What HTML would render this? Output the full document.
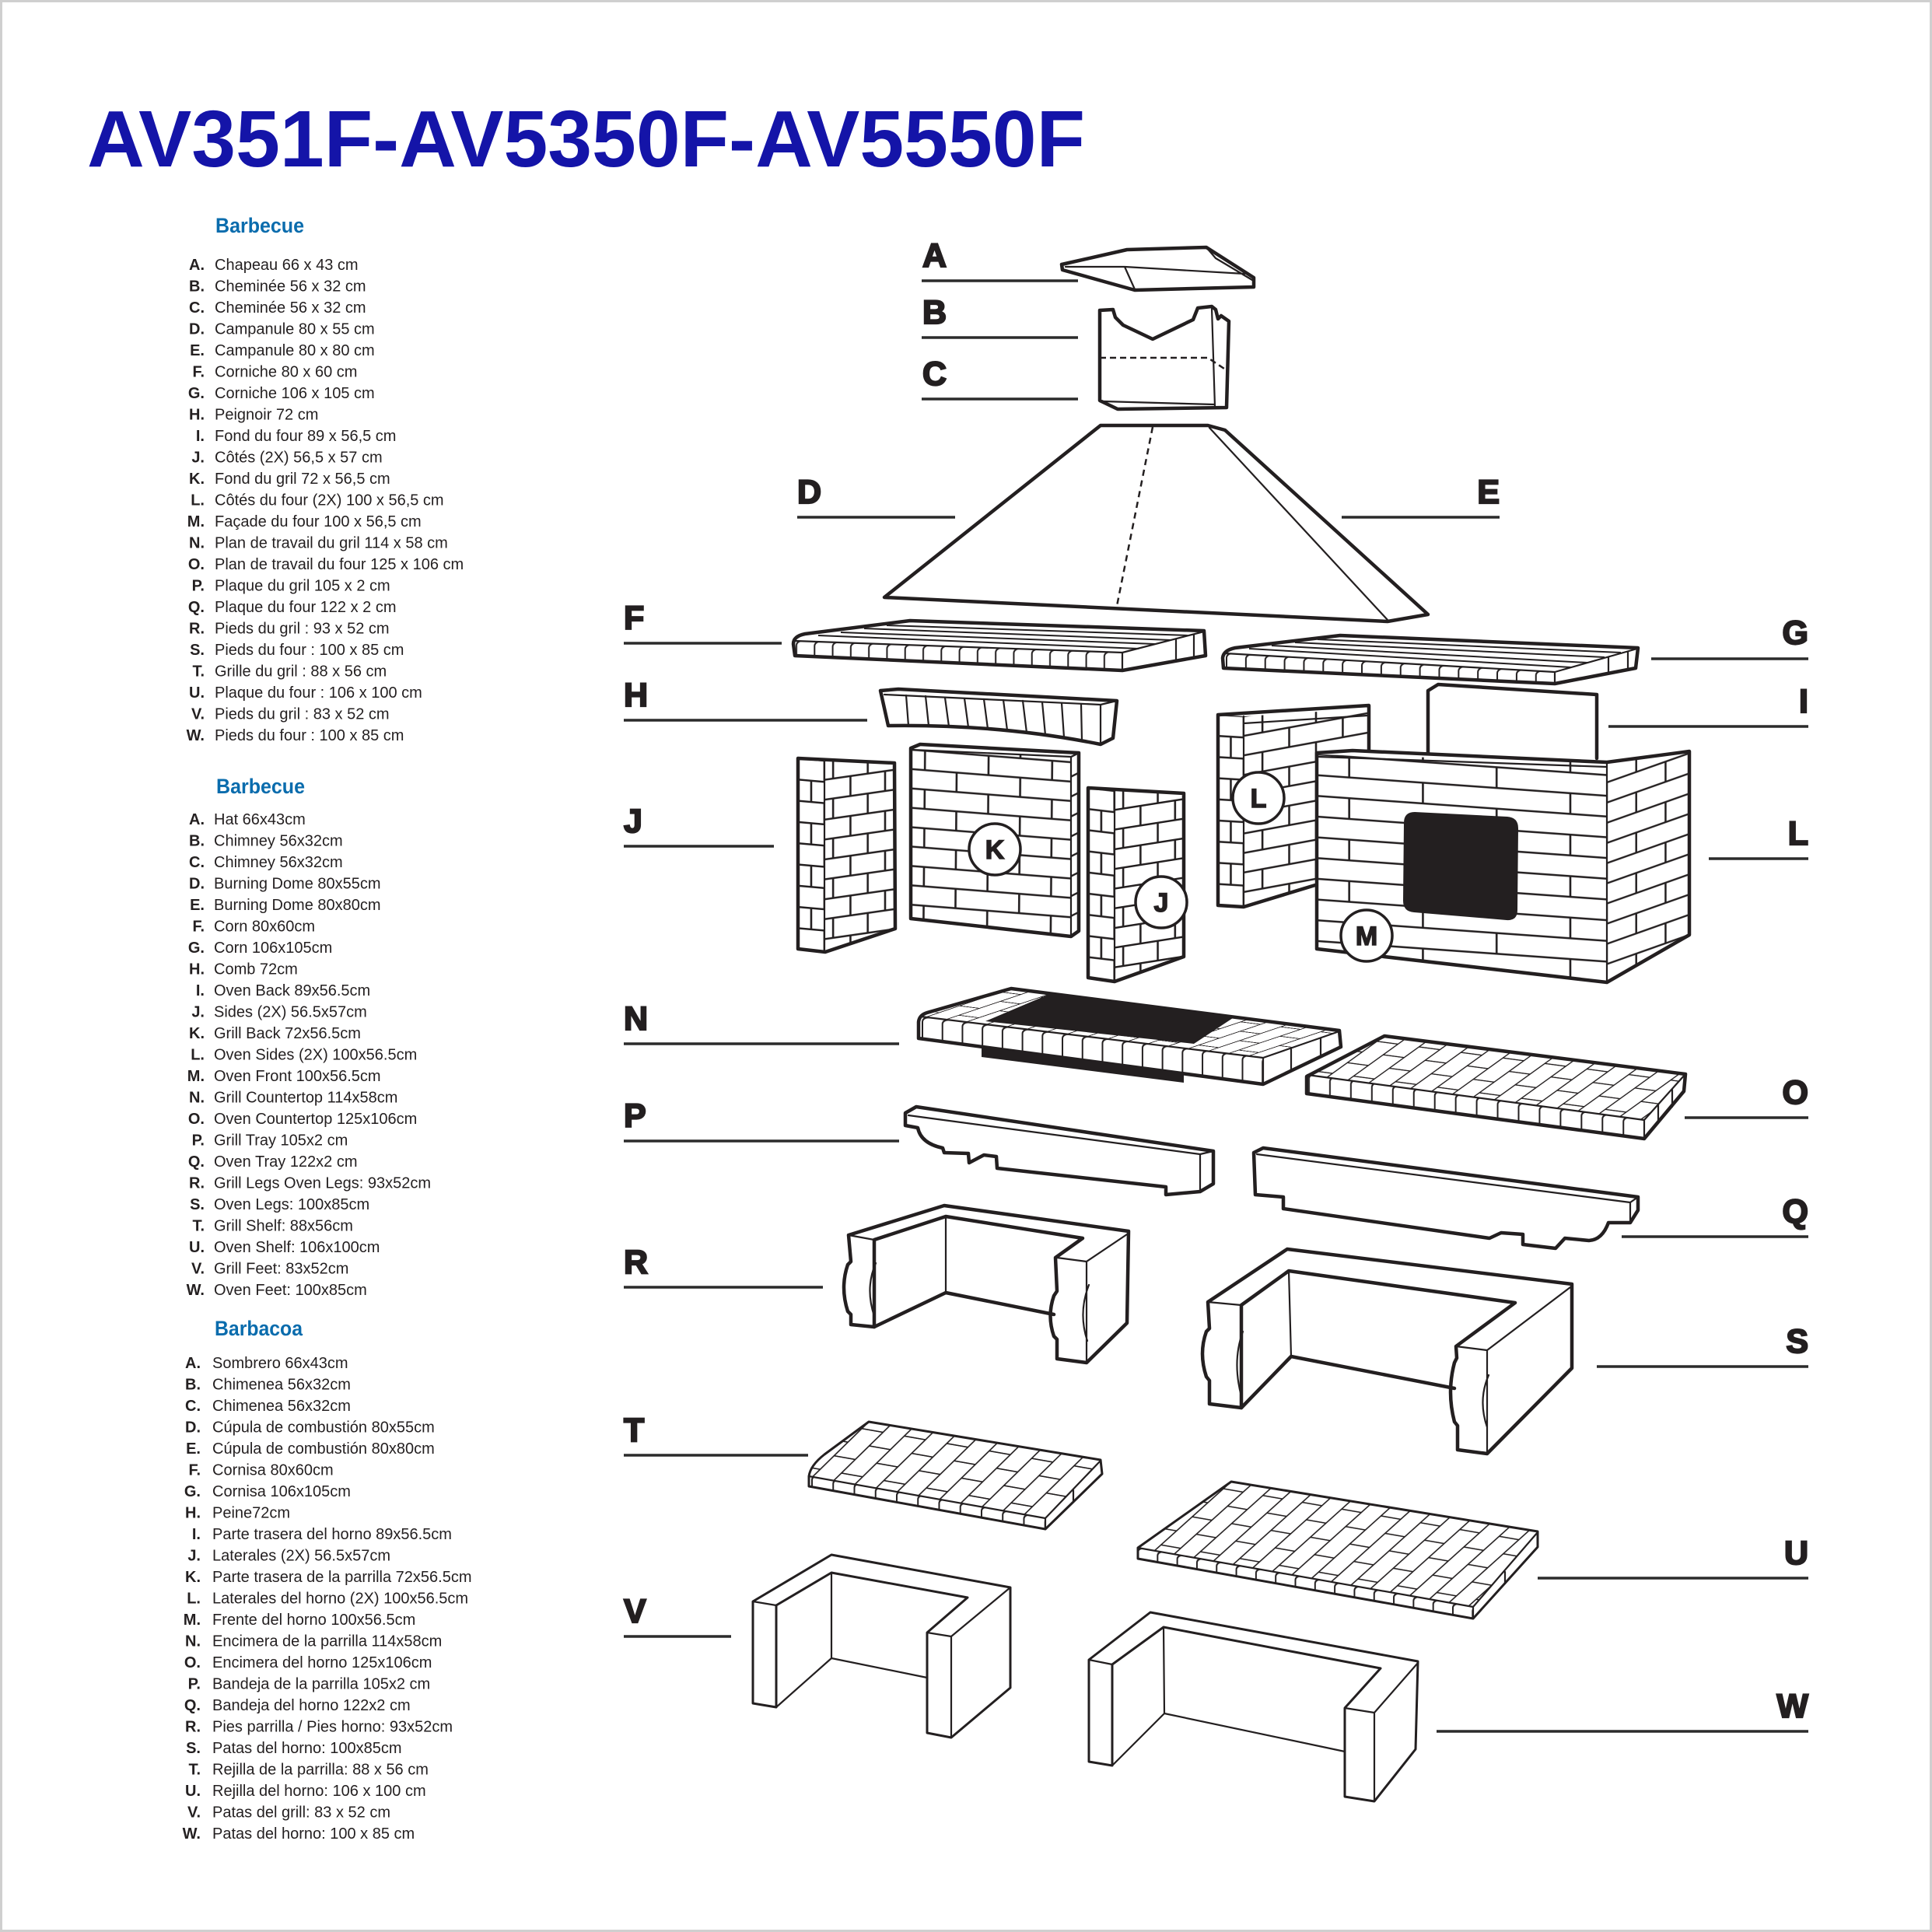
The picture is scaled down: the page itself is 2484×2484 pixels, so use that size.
<!DOCTYPE html>
<html><head><meta charset="utf-8"><title>AV351F-AV5350F-AV5550F</title>
<style>
html,body{margin:0;padding:0;background:#fff;}
svg{display:block;}
.o{fill:#fff;stroke:#231f20;stroke-width:4.5;stroke-linejoin:round;stroke-linecap:round;}
.t{fill:#fff;stroke:#231f20;stroke-width:3;stroke-linejoin:round;stroke-linecap:round;}
.i{fill:none;stroke:#231f20;stroke-width:2.2;stroke-linejoin:round;stroke-linecap:round;}
.k{fill:none;stroke:#231f20;stroke-width:4.5;stroke-linejoin:round;stroke-linecap:round;}
.pl{fill:none;stroke:#231f20;stroke-width:2.6;}
.ps{fill:none;stroke:#231f20;stroke-width:2;}
.ln{stroke:#2b2b2b;stroke-width:3.6;}
.lb{font-family:"Liberation Sans",sans-serif;font-weight:bold;font-size:43px;fill:#231f20;stroke:#231f20;stroke-width:2.2;}
.ci{fill:#fff;stroke:#231f20;stroke-width:3.5;}
.cl{font-family:"Liberation Sans",sans-serif;font-weight:bold;font-size:34px;fill:#231f20;stroke:#231f20;stroke-width:1.5;text-anchor:middle;}
.li{font-family:"Liberation Sans",sans-serif;font-size:20px;fill:#231f20;}
.lk{font-family:"Liberation Sans",sans-serif;font-size:20px;font-weight:bold;fill:#231f20;text-anchor:end;}
.hd{font-family:"Liberation Sans",sans-serif;font-size:27px;font-weight:bold;fill:#0a6cad;}
</style></head>
<body>
<svg xmlns="http://www.w3.org/2000/svg" width="2484" height="2484" viewBox="0 0 2484 2484">
<defs>
<!-- wall patterns -->
<pattern id="pJ1a" patternUnits="userSpaceOnUse" x="-8.5" y="-13.65" width="34" height="54.6" patternTransform="matrix(.998 .088 0 1 1026 975)"><path class="pl" d="M0,13.65H34M0,40.95H34M8.5,13.65V40.95M25.5,40.95V54.6M25.5,0V13.65"/></pattern>
<pattern id="pJ1b" patternUnits="userSpaceOnUse" x="0" y="-12.8" width="45" height="51.2" patternTransform="matrix(.990 -.142 0 1 1060 977)"><path class="pl" d="M0,12.8H45M0,38.4H45M11.25,12.8V38.4M33.75,38.4V51.2M33.75,0V12.8"/></pattern>
<pattern id="pK" patternUnits="userSpaceOnUse" x="-4.1" y="-12.45" width="82" height="49.8" patternTransform="matrix(.997 .078 -.009 1 1173 964)"><path class="pl" d="M0,12.45H82M0,37.35H82M20.5,12.45V37.35M61.5,37.35V49.8M61.5,0V12.45"/></pattern>
<pattern id="pKr" patternUnits="userSpaceOnUse" x="0" y="-12.8" width="20" height="25.6" patternTransform="matrix(.89 -.45 0 1 1377 973)"><path class="pl" d="M0,12.8H20"/></pattern>
<pattern id="pJ2a" patternUnits="userSpaceOnUse" x="-8.5" y="-13.6" width="34" height="54.4" patternTransform="matrix(.993 .117 0 1 1399 1013)"><path class="pl" d="M0,13.6H34M0,40.8H34M8.5,13.6V40.8M25.5,40.8V54.4M25.5,0V13.6"/></pattern>
<pattern id="pJ2b" patternUnits="userSpaceOnUse" x="0" y="-12.65" width="45" height="50.6" patternTransform="matrix(.988 -.155 0 1 1433 1016)"><path class="pl" d="M0,12.65H45M0,37.95H45M11.25,12.65V37.95M33.75,37.95V50.6M33.75,0V12.65"/></pattern>
<pattern id="pLa" patternUnits="userSpaceOnUse" x="-8.25" y="-13.6" width="33" height="54.4" patternTransform="matrix(.998 .06 0 1 1566 919)"><path class="pl" d="M0,13.6H33M0,40.8H33M8.25,13.6V40.8M24.75,40.8V54.4M24.75,0V13.6"/></pattern>
<pattern id="pLb" patternUnits="userSpaceOnUse" x="7" y="-12.55" width="70" height="50.2" patternTransform="matrix(.984 -.180 0 1 1599 921)"><path class="pl" d="M0,12.55H70M0,37.65H70M17.5,12.55V37.65M52.5,37.65V50.2M52.5,0V12.55"/></pattern>
<pattern id="pMf" patternUnits="userSpaceOnUse" x="-5.7" y="-13.325" width="190" height="53.3" patternTransform="matrix(.9975 .0709 0 1 1693 970)"><path class="pl" d="M0,13.325H190M0,39.975H190M47.5,13.325V39.975M142.5,39.975V53.3M142.5,0V13.325"/></pattern>
<pattern id="pMr" patternUnits="userSpaceOnUse" x="20" y="-12.975" width="80" height="51.9" patternTransform="matrix(.943 -.334 0 1 2066 980)"><path class="pl" d="M0,12.975H80M0,38.925H80M20,12.975V38.925M60,38.925V51.9M60,0V12.975"/></pattern>
<!-- slat patterns (top surfaces) -->
<pattern id="pN" patternUnits="userSpaceOnUse" x="-12.95" y="0" width="51.8" height="56" patternTransform="matrix(.9924 .1235 -.948 .3175 1300 1271)"><path class="ps" d="M12.95,0V56M38.85,0V56M12.95,14H38.85M38.85,42H51.8M0,42H12.95"/></pattern>
<pattern id="pO" patternUnits="userSpaceOnUse" x="-13.6" y="0" width="54.4" height="47" patternTransform="matrix(.9915 .1309 -.8117 .5844 1780 1332)"><path class="ps" d="M13.6,0V47M40.8,0V47M13.6,11.75H40.8M40.8,35.25H54.4M0,35.25H13.6"/></pattern>
<pattern id="pT" patternUnits="userSpaceOnUse" x="-13.85" y="0" width="55.4" height="50" patternTransform="matrix(.985 .173 -.714 .699 1117 1828)"><path class="ps" d="M13.85,0V50M41.55,0V50M13.85,12.5H41.55M41.55,37.5H55.4M0,37.5H13.85"/></pattern>
<pattern id="pU" patternUnits="userSpaceOnUse" x="-12.85" y="0" width="51.4" height="54" patternTransform="matrix(.9854 .1702 -.7434 .6691 1583 1905)"><path class="ps" d="M12.85,0V54M38.55,0V54M12.85,13.5H38.55M38.55,40.5H51.4M0,40.5H12.85"/></pattern>
<!-- rib patterns (front faces) -->
<pattern id="pFr" patternUnits="userSpaceOnUse" x="-11.65" y="-4" width="23.3" height="60" patternTransform="matrix(.9994 .0358 0 1 1024 824)"><path class="ps" d="M11.65,60L11.65,10Q11.65,4 21.65,3"/></pattern>
<pattern id="pGr" patternUnits="userSpaceOnUse" x="-12.45" y="-4" width="24.9" height="60" patternTransform="matrix(.9984 .0568 0 1 1577 840)"><path class="ps" d="M12.45,60L12.45,10Q12.45,4 22.45,3"/></pattern>
<pattern id="pNr" patternUnits="userSpaceOnUse" x="-12.95" y="-4" width="25.9" height="60" patternTransform="matrix(.993 .1179 0 1 1186 1308)"><path class="ps" d="M12.95,60L12.95,10Q12.95,4 22.95,3"/></pattern>
<pattern id="pOr" patternUnits="userSpaceOnUse" x="-13.6" y="-4" width="27.2" height="60" patternTransform="matrix(.9908 .1356 0 1 1683 1381)"><path class="ps" d="M13.6,60L13.6,10Q13.6,4 23.6,3"/></pattern>
<pattern id="pTr" patternUnits="userSpaceOnUse" x="-13.85" y="-4" width="27.7" height="60" patternTransform="matrix(.9836 .1803 0 1 1044 1897)"><path class="ps" d="M13.85,60L13.85,10Q13.85,4 23.85,3"/></pattern>
<pattern id="pUr" patternUnits="userSpaceOnUse" x="-12.85" y="-4" width="25.7" height="60" patternTransform="matrix(.9849 .1737 0 1 1463 1990)"><path class="ps" d="M12.85,60L12.85,10Q12.85,4 22.85,3"/></pattern>
</defs>

<rect x="0" y="0" width="2484" height="2484" fill="#fff"/>
<rect x="1.5" y="1.5" width="2481" height="2481" fill="none" stroke="#cfcfcf" stroke-width="3"/>

<text x="112" y="214" font-family="Liberation Sans, sans-serif" font-weight="bold" font-size="103" fill="#1414a8" textLength="1283" lengthAdjust="spacingAndGlyphs">AV351F-AV5350F-AV5550F</text>

<!-- Section 1 -->
<text class="hd" x="277" y="299" textLength="114" lengthAdjust="spacingAndGlyphs">Barbecue</text>
<g>
<text class="lk" x="263" y="347">A.</text><text class="li" x="276" y="347">Chapeau 66 x 43 cm</text>
<text class="lk" x="263" y="374.5">B.</text><text class="li" x="276" y="374.5">Cheminée 56 x 32 cm</text>
<text class="lk" x="263" y="402">C.</text><text class="li" x="276" y="402">Cheminée 56 x 32 cm</text>
<text class="lk" x="263" y="429.5">D.</text><text class="li" x="276" y="429.5">Campanule 80 x 55 cm</text>
<text class="lk" x="263" y="457">E.</text><text class="li" x="276" y="457">Campanule 80 x 80 cm</text>
<text class="lk" x="263" y="484.5">F.</text><text class="li" x="276" y="484.5">Corniche 80 x 60 cm</text>
<text class="lk" x="263" y="512">G.</text><text class="li" x="276" y="512">Corniche 106 x 105 cm</text>
<text class="lk" x="263" y="539.5">H.</text><text class="li" x="276" y="539.5">Peignoir 72 cm</text>
<text class="lk" x="263" y="567">I.</text><text class="li" x="276" y="567">Fond du four 89 x 56,5 cm</text>
<text class="lk" x="263" y="594.5">J.</text><text class="li" x="276" y="594.5">Côtés (2X) 56,5 x 57 cm</text>
<text class="lk" x="263" y="622">K.</text><text class="li" x="276" y="622">Fond du gril 72 x 56,5 cm</text>
<text class="lk" x="263" y="649.5">L.</text><text class="li" x="276" y="649.5">Côtés du four (2X) 100 x 56,5 cm</text>
<text class="lk" x="263" y="677">M.</text><text class="li" x="276" y="677">Façade du four 100 x 56,5 cm</text>
<text class="lk" x="263" y="704.5">N.</text><text class="li" x="276" y="704.5">Plan de travail du gril 114 x 58 cm</text>
<text class="lk" x="263" y="732">O.</text><text class="li" x="276" y="732">Plan de travail du four 125 x 106 cm</text>
<text class="lk" x="263" y="759.5">P.</text><text class="li" x="276" y="759.5">Plaque du gril 105 x 2 cm</text>
<text class="lk" x="263" y="787">Q.</text><text class="li" x="276" y="787">Plaque du four 122 x 2 cm</text>
<text class="lk" x="263" y="814.5">R.</text><text class="li" x="276" y="814.5">Pieds du gril : 93 x 52 cm</text>
<text class="lk" x="263" y="842">S.</text><text class="li" x="276" y="842">Pieds du four : 100 x 85 cm</text>
<text class="lk" x="263" y="869.5">T.</text><text class="li" x="276" y="869.5">Grille du gril : 88 x 56 cm</text>
<text class="lk" x="263" y="897">U.</text><text class="li" x="276" y="897">Plaque du four : 106 x 100 cm</text>
<text class="lk" x="263" y="924.5">V.</text><text class="li" x="276" y="924.5">Pieds du gril : 83 x 52 cm</text>
<text class="lk" x="263" y="952">W.</text><text class="li" x="276" y="952">Pieds du four : 100 x 85 cm</text>
</g>

<!-- Section 2 -->
<text class="hd" x="278" y="1020" textLength="114" lengthAdjust="spacingAndGlyphs">Barbecue</text>
<g>
<text class="lk" x="263" y="1060">A.</text><text class="li" x="275" y="1060">Hat 66x43cm</text>
<text class="lk" x="263" y="1087.5">B.</text><text class="li" x="275" y="1087.5">Chimney 56x32cm</text>
<text class="lk" x="263" y="1115">C.</text><text class="li" x="275" y="1115">Chimney 56x32cm</text>
<text class="lk" x="263" y="1142.5">D.</text><text class="li" x="275" y="1142.5">Burning Dome 80x55cm</text>
<text class="lk" x="263" y="1170">E.</text><text class="li" x="275" y="1170">Burning Dome 80x80cm</text>
<text class="lk" x="263" y="1197.5">F.</text><text class="li" x="275" y="1197.5">Corn 80x60cm</text>
<text class="lk" x="263" y="1225">G.</text><text class="li" x="275" y="1225">Corn 106x105cm</text>
<text class="lk" x="263" y="1252.5">H.</text><text class="li" x="275" y="1252.5">Comb 72cm</text>
<text class="lk" x="263" y="1280">I.</text><text class="li" x="275" y="1280">Oven Back 89x56.5cm</text>
<text class="lk" x="263" y="1307.5">J.</text><text class="li" x="275" y="1307.5">Sides (2X) 56.5x57cm</text>
<text class="lk" x="263" y="1335">K.</text><text class="li" x="275" y="1335">Grill Back 72x56.5cm</text>
<text class="lk" x="263" y="1362.5">L.</text><text class="li" x="275" y="1362.5">Oven Sides (2X) 100x56.5cm</text>
<text class="lk" x="263" y="1390">M.</text><text class="li" x="275" y="1390">Oven Front 100x56.5cm</text>
<text class="lk" x="263" y="1417.5">N.</text><text class="li" x="275" y="1417.5">Grill Countertop 114x58cm</text>
<text class="lk" x="263" y="1445">O.</text><text class="li" x="275" y="1445">Oven Countertop 125x106cm</text>
<text class="lk" x="263" y="1472.5">P.</text><text class="li" x="275" y="1472.5">Grill Tray 105x2 cm</text>
<text class="lk" x="263" y="1500">Q.</text><text class="li" x="275" y="1500">Oven Tray 122x2 cm</text>
<text class="lk" x="263" y="1527.5">R.</text><text class="li" x="275" y="1527.5">Grill Legs Oven Legs: 93x52cm</text>
<text class="lk" x="263" y="1555">S.</text><text class="li" x="275" y="1555">Oven Legs: 100x85cm</text>
<text class="lk" x="263" y="1582.5">T.</text><text class="li" x="275" y="1582.5">Grill Shelf: 88x56cm</text>
<text class="lk" x="263" y="1610">U.</text><text class="li" x="275" y="1610">Oven Shelf: 106x100cm</text>
<text class="lk" x="263" y="1637.5">V.</text><text class="li" x="275" y="1637.5">Grill Feet: 83x52cm</text>
<text class="lk" x="263" y="1665">W.</text><text class="li" x="275" y="1665">Oven Feet: 100x85cm</text>
</g>

<!-- Section 3 -->
<text class="hd" x="276" y="1717" textLength="113" lengthAdjust="spacingAndGlyphs">Barbacoa</text>
<g>
<text class="lk" x="258" y="1759">A.</text><text class="li" x="273" y="1759">Sombrero 66x43cm</text>
<text class="lk" x="258" y="1786.5">B.</text><text class="li" x="273" y="1786.5">Chimenea 56x32cm</text>
<text class="lk" x="258" y="1814">C.</text><text class="li" x="273" y="1814">Chimenea 56x32cm</text>
<text class="lk" x="258" y="1841.5">D.</text><text class="li" x="273" y="1841.5">Cúpula de combustión 80x55cm</text>
<text class="lk" x="258" y="1869">E.</text><text class="li" x="273" y="1869">Cúpula de combustión 80x80cm</text>
<text class="lk" x="258" y="1896.5">F.</text><text class="li" x="273" y="1896.5">Cornisa 80x60cm</text>
<text class="lk" x="258" y="1924">G.</text><text class="li" x="273" y="1924">Cornisa 106x105cm</text>
<text class="lk" x="258" y="1951.5">H.</text><text class="li" x="273" y="1951.5">Peine72cm</text>
<text class="lk" x="258" y="1979">I.</text><text class="li" x="273" y="1979">Parte trasera del horno 89x56.5cm</text>
<text class="lk" x="258" y="2006.5">J.</text><text class="li" x="273" y="2006.5">Laterales (2X) 56.5x57cm</text>
<text class="lk" x="258" y="2034">K.</text><text class="li" x="273" y="2034">Parte trasera de la parrilla 72x56.5cm</text>
<text class="lk" x="258" y="2061.5">L.</text><text class="li" x="273" y="2061.5">Laterales del horno (2X) 100x56.5cm</text>
<text class="lk" x="258" y="2089">M.</text><text class="li" x="273" y="2089">Frente del horno 100x56.5cm</text>
<text class="lk" x="258" y="2116.5">N.</text><text class="li" x="273" y="2116.5">Encimera de la parrilla 114x58cm</text>
<text class="lk" x="258" y="2144">O.</text><text class="li" x="273" y="2144">Encimera del horno 125x106cm</text>
<text class="lk" x="258" y="2171.5">P.</text><text class="li" x="273" y="2171.5">Bandeja de la parrilla 105x2 cm</text>
<text class="lk" x="258" y="2199">Q.</text><text class="li" x="273" y="2199">Bandeja del horno 122x2 cm</text>
<text class="lk" x="258" y="2226.5">R.</text><text class="li" x="273" y="2226.5">Pies parrilla / Pies horno: 93x52cm</text>
<text class="lk" x="258" y="2254">S.</text><text class="li" x="273" y="2254">Patas del horno: 100x85cm</text>
<text class="lk" x="258" y="2281.5">T.</text><text class="li" x="273" y="2281.5">Rejilla de la parrilla: 88 x 56 cm</text>
<text class="lk" x="258" y="2309">U.</text><text class="li" x="273" y="2309">Rejilla del horno: 106 x 100 cm</text>
<text class="lk" x="258" y="2336.5">V.</text><text class="li" x="273" y="2336.5">Patas del grill: 83 x 52 cm</text>
<text class="lk" x="258" y="2364">W.</text><text class="li" x="273" y="2364">Patas del horno: 100 x 85 cm</text>
</g>

<!-- Leader lines -->
<g class="ln">
<line x1="1185" y1="361" x2="1386" y2="361"/>
<line x1="1185" y1="434" x2="1386" y2="434"/>
<line x1="1185" y1="513" x2="1386" y2="513"/>
<line x1="1025" y1="665" x2="1228" y2="665"/>
<line x1="1725" y1="665" x2="1928" y2="665"/>
<line x1="802" y1="827" x2="1005" y2="827"/>
<line x1="2123" y1="847" x2="2325" y2="847"/>
<line x1="802" y1="926" x2="1115" y2="926"/>
<line x1="2068" y1="934" x2="2325" y2="934"/>
<line x1="802" y1="1088" x2="995" y2="1088"/>
<line x1="2197" y1="1104" x2="2325" y2="1104"/>
<line x1="802" y1="1342" x2="1156" y2="1342"/>
<line x1="2166" y1="1437" x2="2325" y2="1437"/>
<line x1="802" y1="1467" x2="1156" y2="1467"/>
<line x1="2085" y1="1590" x2="2325" y2="1590"/>
<line x1="802" y1="1655" x2="1058" y2="1655"/>
<line x1="2053" y1="1757" x2="2325" y2="1757"/>
<line x1="802" y1="1871" x2="1039" y2="1871"/>
<line x1="1977" y1="2029" x2="2325" y2="2029"/>
<line x1="802" y1="2104" x2="940" y2="2104"/>
<line x1="1847" y1="2226" x2="2325" y2="2226"/>
</g>

<!-- Leader letters -->
<g class="lb">
<text x="1186" y="343">A</text>
<text x="1186" y="416">B</text>
<text x="1186" y="495">C</text>
<text x="1025" y="647">D</text>
<text x="1928" y="647" text-anchor="end">E</text>
<text x="802" y="809">F</text>
<text x="2325" y="828" text-anchor="end">G</text>
<text x="802" y="908">H</text>
<text x="2325" y="916" text-anchor="end">I</text>
<text x="802" y="1070">J</text>
<text x="2325" y="1086" text-anchor="end">L</text>
<text x="802" y="1324">N</text>
<text x="2325" y="1419" text-anchor="end">O</text>
<text x="802" y="1449">P</text>
<text x="2325" y="1572" text-anchor="end">Q</text>
<text x="802" y="1637">R</text>
<text x="2325" y="1739" text-anchor="end">S</text>
<text x="802" y="1853">T</text>
<text x="2325" y="2011" text-anchor="end">U</text>
<text x="802" y="2086">V</text>
<text x="2325" y="2208" text-anchor="end">W</text>
</g>

<!-- A hat -->
<path class="o" d="M1365,340 L1449,321 L1551,318 L1612,357 L1612,369 L1459,373 L1366,347 Z"/>
<path class="i" d="M1370,343 L1446,343 L1459,372 M1446,343 L1600,352 M1551,318 L1563,332 L1610,360"/>

<!-- B/C chimney -->
<path class="o" d="M1414,399 L1431,398 L1434,408 L1444,418 L1482,436 L1534,411 L1540,396 L1558,394 L1563,398 L1566,410 L1570,406 L1580,413 L1577,524 L1437,526 L1414,515 Z"/>
<path class="i" d="M1558,396 L1562,523 M1418,516 L1561,520"/>
<path d="M1414,460 L1553,460 L1574,474" fill="none" stroke="#231f20" stroke-width="2.5" stroke-dasharray="8,5"/>

<!-- D/E hood -->
<path class="o" stroke-width="5" d="M1415,547 L1553,547 L1575,553 L1836,790 L1784,799 L1137,768 Z"/>
<path class="i" d="M1555,550 L1784,797"/>
<path d="M1482,549 L1436,779" fill="none" stroke="#231f20" stroke-width="2.5" stroke-dasharray="8,6"/>

<!-- F cornice -->
<path class="o" d="M1022,843 L1020,828 Q1020,818 1035,815 L1170,798 L1548,811 L1550,843 L1443,862 Z"/>
<path d="M1022,824 L1443,839 L1443,861 L1022,843 Z" fill="url(#pFr)"/>
<path class="ps" d="M1052,817 L1464,834 M1081,813 L1485,828 M1111,808 L1506,823 M1140,804 L1527,817"/>
<path class="i" d="M1022,824 L1443,839 L1548,812 M1443,839 L1443,862 M1512,822 L1512,850 M1535,816 L1535,846"/>

<!-- G cornice -->
<path class="o" d="M1573,859 L1572,846 Q1573,836 1588,833 L1723,817 L2106,833 L2103,859 L1999,879 Z"/>
<path d="M1575,840 L1999,864 L1999,879 L1573,859 Z" fill="url(#pGr)"/>
<path class="ps" d="M1606,834 L2020,858 M1635,830 L2041,852 M1665,826 L2063,845 M1694,822 L2084,839"/>
<path class="i" d="M1575,840 L1999,864 L2105,834 M1999,864 L1999,879 M2068,845 L2068,866 M2093,838 L2093,861"/>

<!-- H comb -->
<path class="o" d="M1132,888 L1155,886 L1436,901 L1431,949 L1415,957 Q1287,931 1142,933 Z"/>
<path class="i" stroke-width="2.4" d="M1165,894 L1168,933 M1190,895 L1194,933 M1215,897 L1220,934 M1240,898 L1245,935 M1265,899 L1270,937 M1290,900 L1295,939 M1315,901 L1320,942 M1340,903 L1344,945 M1365,904 L1368,948 M1390,905 L1391,952"/>
<path class="i" d="M1137,893 L1415,906 L1436,901 M1415,906 L1415,957"/>

<!-- J left -->
<path class="o" d="M1026,975 L1150,981 L1151,1194 L1061,1224 L1026,1220 Z"/>
<path d="M1026,975 L1060,977 L1060,1224 L1026,1220 Z" fill="url(#pJ1a)"/>
<path d="M1060,977 L1150,981 L1151,1194 L1060,1224 Z" fill="url(#pJ1b)"/>
<path class="i" d="M1060,977 L1060,1224"/>

<!-- K -->
<path class="o" d="M1171,962 L1183,957 L1387,968 L1387,1197 L1377,1204 L1171,1181 Z"/>
<path d="M1173,964 L1377,973 L1377,1204 L1171,1181 Z" fill="url(#pK)"/>
<path d="M1377,973 L1387,968 L1387,1197 L1377,1204 Z" fill="url(#pKr)"/>
<path class="i" d="M1173,964 L1377,973 L1377,1204 M1377,973 L1387,968"/>
<circle class="ci" cx="1279" cy="1092" r="33"/><text class="cl" x="1279" y="1104">K</text>

<!-- J middle -->
<path class="o" d="M1399,1013 L1522,1020 L1522,1230 L1433,1262 L1399,1257 Z"/>
<path d="M1399,1013 L1433,1016 L1433,1262 L1399,1257 Z" fill="url(#pJ2a)"/>
<path d="M1433,1016 L1522,1020 L1522,1230 L1433,1262 Z" fill="url(#pJ2b)"/>
<path class="i" d="M1433,1016 L1433,1262"/>
<circle class="ci" cx="1493" cy="1160" r="33"/><text class="cl" x="1493" y="1172">J</text>

<!-- L oven side -->
<path class="o" d="M1691,1138 L1599,1166 L1566,1164 L1566,919 L1760,907 L1760,968"/>
<path d="M1566,919 L1599,921 L1599,1166 L1566,1164 Z" fill="url(#pLa)"/>
<path d="M1599,921 L1760,911 L1760,1117 L1599,1166 Z" fill="url(#pLb)"/>
<path class="i" d="M1599,921 L1599,1166 M1599,930 L1758,920"/>
<circle class="ci" cx="1618" cy="1026" r="33"/><text class="cl" x="1618" y="1038">L</text>

<!-- I oven back -->
<path class="o" d="M1836,968 L1836,888 L1849,880 L2053,893 L2053,975"/>

<!-- M oven -->
<path class="o" d="M1693,968 L1739,965 L2066,980 L2172,966 L2172,1202 L2066,1263 L1693,1220 Z"/>
<path d="M1693,970 L2066,980 L2066,1263 L1693,1220 Z" fill="url(#pMf)"/>
<path d="M2066,980 L2172,966 L2172,1202 L2066,1263 Z" fill="url(#pMr)"/>
<path class="i" d="M2066,980 L2066,1263 M1695,973 L2066,986"/>
<path d="M1819,1044 L1938,1050 Q1952,1051 1952,1065 L1951,1170 Q1951,1184 1937,1183 L1818,1173 Q1804,1172 1804,1158 L1805,1058 Q1805,1044 1819,1044 Z" fill="#231f20"/>
<circle class="ci" cx="1757" cy="1203" r="33"/><text class="cl" x="1757" y="1215">M</text>

<!-- N grill countertop -->
<path class="o" d="M1181,1335 L1181,1314 Q1182,1305 1192,1302 L1300,1271 L1722,1325 L1724,1346 L1624,1394 Z"/>
<path d="M1300,1271 L1722,1325 L1624,1360 L1186,1307 Z" fill="url(#pN)"/>
<path d="M1186,1308 L1624,1360 L1624,1394 L1181,1335 Z" fill="url(#pNr)"/>
<path d="M1267,1313 L1352,1277 L1588,1307 L1535,1342 Z" fill="#231f20"/>
<path d="M1262,1346 L1522,1380 L1522,1392 L1262,1359 Z" fill="#231f20"/>
<path class="i" d="M1184,1307 L1624,1360 L1722,1326 M1624,1360 L1624,1394 M1698,1335 L1698,1358 M1660,1348 L1660,1376"/>

<!-- O oven countertop -->
<path class="o" d="M1680,1406 L1680,1384 L1780,1332 L2167,1381 L2165,1403 L2114,1464 Z"/>
<path d="M1780,1332 L2167,1381 L2114,1440 L1681,1382 Z" fill="url(#pO)"/>
<path d="M1681,1382 L2114,1440 L2114,1464 L1680,1406 Z" fill="url(#pOr)"/>
<path class="i" d="M1681,1382 L2114,1440 L2166,1382 M2114,1440 L2114,1464 M2132,1420 L2132,1443 M2150,1400 L2150,1423"/>

<!-- P grill plate -->
<path class="o" d="M1164,1431 L1178,1423 L1560,1480 L1560,1522 L1543,1532 L1499,1536 L1499,1526 L1282,1502 L1281,1487 L1265,1485 L1246,1495 L1245,1483 L1214,1482 L1212,1476 Q1184,1470 1180,1450 L1164,1447 Z"/>
<path class="i" d="M1168,1434 L1543,1484 L1543,1532 M1543,1484 L1560,1480"/>

<!-- Q oven plate -->
<path class="o" d="M1612,1482 L1624,1476 L2106,1539 L2106,1556 L2096,1572 L2068,1572 Q2060,1594 2043,1595 L2012,1592 L2000,1605 L1958,1600 L1958,1587 L1930,1585 L1915,1592 L1650,1554 L1650,1539 L1614,1536 Z"/>
<path class="i" d="M1616,1484 L2096,1546 L2096,1572 M2096,1546 L2106,1539 M1930,1585 L1915,1592"/>

<!-- R grill legs -->
<path class="o" d="M1091,1588 L1214,1550 L1451,1583 L1449,1701 L1397,1752 L1359,1747 L1359,1722 L1355,1718 Q1346,1692 1355,1666 L1359,1660 L1357,1617 L1392,1592 L1216,1564 L1124,1594 L1124,1706 L1094,1703 L1094,1690 L1090,1686 Q1080,1655 1090,1626 L1094,1622 Z"/>
<path class="i" d="M1091,1588 L1124,1594 M1216,1564 L1216,1662 M1359,1617 L1397,1622 L1449,1587 M1397,1622 L1397,1752 M1126,1624 Q1112,1656 1124,1692 M1400,1652 Q1386,1688 1398,1724"/>
<path class="k" d="M1124,1706 L1216,1662 L1355,1690"/>

<!-- S oven legs -->
<path class="o" d="M1553,1674 L1655,1606 L2021,1651 L2021,1759 L1912,1869 L1874,1864 L1874,1833 L1870,1828 Q1860,1790 1870,1752 L1873,1746 L1872,1731 L1948,1675 L1657,1634 L1596,1678 L1596,1810 L1555,1805 L1555,1775 L1551,1770 Q1541,1740 1551,1712 L1555,1708 Z"/>
<path class="i" d="M1553,1674 L1596,1678 M1657,1634 L1660,1744 M1872,1731 L1912,1736 L2019,1655 M1912,1736 L1912,1869 M1598,1712 Q1584,1750 1596,1795 M1914,1768 Q1900,1800 1912,1835"/>
<path class="k" d="M1596,1810 L1660,1744 L1870,1785"/>

<!-- T grill shelf -->
<path class="t" d="M1040,1911 L1040,1898 Q1042,1884 1060,1870 L1117,1828 L1415,1877 L1417,1895 L1344,1966 Z"/>
<path d="M1117,1828 L1415,1877 L1344,1952 L1040,1898 L1045,1882 L1060,1870 Z" fill="url(#pT)"/>
<path d="M1040,1898 L1344,1952 L1344,1966 L1040,1911 Z" fill="url(#pTr)"/>
<path class="i" d="M1040,1898 L1344,1952 L1415,1878 M1344,1952 L1344,1966 M1380,1916 L1380,1930"/>

<!-- U oven shelf -->
<path class="t" d="M1463,2004 L1463,1990 L1583,1905 L1977,1969 L1977,1989 L1894,2081 Z"/>
<path d="M1583,1905 L1977,1969 L1894,2066 L1463,1990 Z" fill="url(#pU)"/>
<path d="M1463,1990 L1894,2066 L1894,2081 L1463,2004 Z" fill="url(#pUr)"/>
<path class="i" d="M1463,1990 L1894,2066 L1977,1970 M1894,2066 L1894,2081 M1935,2021 L1935,2036"/>

<!-- V grill feet -->
<path class="t" d="M968,2059 L1069,1999 L1299,2041 L1299,2170 L1223,2234 L1192,2228 L1192,2099 L1244,2054 L1069,2022 L998,2064 L998,2195 L968,2190 Z"/>
<path class="i" stroke-width="2.6" d="M968,2059 L998,2064 M1192,2099 L1223,2104 L1299,2041 M1223,2104 L1223,2234 M1069,2022 L1069,2132 L1192,2157 M998,2195 L1069,2132"/>

<!-- W oven feet -->
<path class="t" d="M1400,2134 L1479,2073 L1823,2136 L1820,2249 L1767,2316 L1729,2310 L1729,2196 L1775,2145 L1496,2092 L1430,2140 L1430,2270 L1400,2265 Z"/>
<path class="i" stroke-width="2.6" d="M1400,2134 L1430,2140 M1729,2196 L1767,2202 L1823,2138 M1767,2202 L1767,2316 M1496,2092 L1497,2203 L1729,2252 M1430,2270 L1497,2203"/>
</svg>
</body></html>
